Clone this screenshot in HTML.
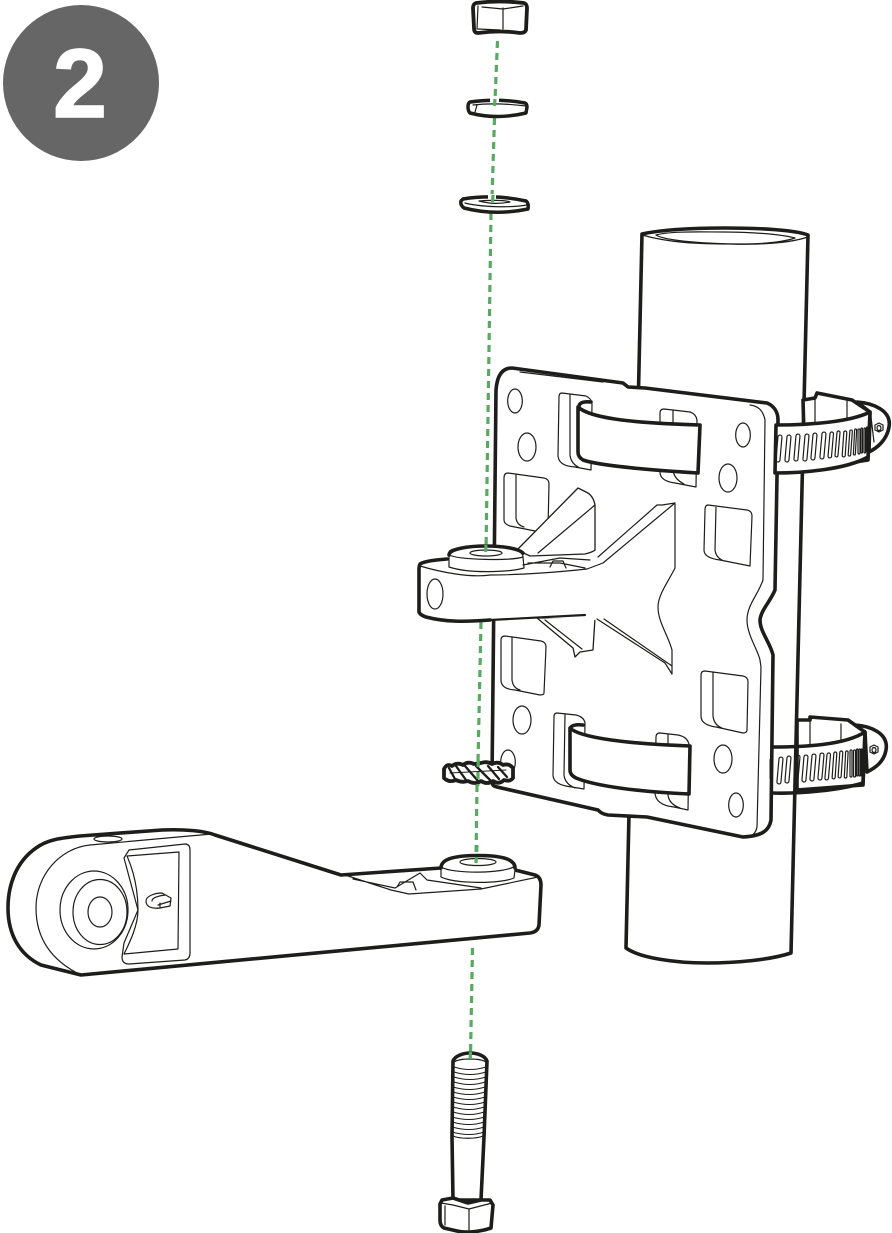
<!DOCTYPE html>
<html lang="en"><head><meta charset="utf-8"><title>Step 2</title>
<style>html,body{margin:0;padding:0;background:#fff}svg{display:block}
.k{stroke:#1d1d1b;fill:none;stroke-linejoin:round;stroke-linecap:round}
.w{stroke:#1d1d1b;fill:#fff;stroke-linejoin:round;stroke-linecap:round}
.t{stroke-width:3.6}.m{stroke-width:1.2}.g{stroke:#58a961;stroke-width:3.2;stroke-dasharray:7 5;fill:none}</style></head>
<body>
<svg xmlns="http://www.w3.org/2000/svg" width="892" height="1233" viewBox="0 0 892 1233">
<rect width="892" height="1233" fill="#fff"/>
<circle cx="81" cy="83" r="78" fill="#666"/>
<text x="80" y="117" text-anchor="middle" font-family="'Liberation Sans',sans-serif" font-weight="700" font-size="97" fill="#fff" stroke="#fff" stroke-width="1.500">2</text>

<!-- pipe -->
<path class="w t" d="M642 234C665 229 700 228 725 228C760 228 795 230 808 235L791 953C770 960 735 963 707 963C675 963 640 958 626 948Z"/>
<path class="k m" d="M642 235C670 243 700 244 730 244C760 245 790 243 808 237M656 235C670 231 700 232 723 232C750 232 780 234 795 238C780 243 760 244 740 244C710 244 665 241 656 235Z"/>

<!-- back clamps -->
<path class="w t" d="M803 400L815 398L817 393L852 400L870 412L868 460L805 470Z"/>
<path class="k m" d="M815 398V425M847 401V422"/>
<path class="w t" d="M857 402C872 403 892 410 889 427C887 440 877 448 869 452L870 412Z"/>
<path class="k m" d="M871 417L874 442"/>
<path class="k m" d="M879 423l4 2v5l-4 2l-4-2v-5zM879 425.500a2 2.500 0 1 0 .01 0"/>
<path class="w t" d="M797 720L810 720L810 717L848 720L865 732L863 785L797 790Z"/>
<path class="k m" d="M810 720V745M841 724V742"/>
<path class="w t" d="M855 725C870 726 889 733 886 750C884 762 875 768 867 772L865 732Z"/>
<path class="k m" d="M874 745l4 2v5l-4 2l-4-2v-5zM874 747.500a2 2.500 0 1 0 .01 0"/>

<!-- plate -->
<path class="w t" d="M496 390C497 376 502 368 512 368L623 383L628 387L645 388L767 403C774 406 778 412 778 420L775 590C770 602 761 610 760 620C760 632 770 642 773 655L771 820C769 832 760 836 743 837L647 817L608 815C602 814 600 812 598 810L497 787C493 786 492 785 492 780Z"/>
<path class="k m" d="M520 372L603 382M750 405C758 406 763 410 765 420L763 580C758 595 747 605 747 620C747 635 758 650 760 660L761 667L757 827C756 832 754 835 750 836"/>
<ellipse class="k m" cx="515" cy="401" rx="7.300" ry="12"/><ellipse class="k m" cx="527" cy="447" rx="9" ry="14"/>
<ellipse class="k m" cx="743" cy="435" rx="7.300" ry="12"/><ellipse class="k m" cx="728" cy="478" rx="9" ry="14"/>
<ellipse class="k m" cx="522" cy="720" rx="9" ry="14"/><ellipse class="k m" cx="508" cy="762" rx="7.300" ry="12"/>
<ellipse class="k m" cx="723" cy="759" rx="9" ry="14"/><ellipse class="k m" cx="736" cy="805" rx="7.300" ry="12"/>
<!-- windows -->
<path class="k m" d="M508 473L544 478Q549 479 549 484L548 528M508 473Q504 473 504 478L504 520Q504 524 510 526L535 531M516 474L516 518Q517 525 524 527"/>
<path class="k m" d="M708 505L747 510Q752 511 752 516L750 566L720 560Q704 558 704 550L705 510Q705 505 708 505ZM716 506L715 550Q716 558 724 561"/>
<path class="k m" d="M505 636L541 641Q546 642 546 647L544 693Q544 695 540 695L515 690Q501 689 501 680L501 640Q501 636 505 636ZM512 637L512 680Q513 688 520 690"/>
<path class="k m" d="M705 671L743 676Q748 677 748 682L747 730Q747 733 743 733L716 727Q701 725 701 716L701 675Q701 671 705 671ZM713 672L713 716Q714 725 722 728"/>
<!-- slots -->
<path class="k m" d="M562 393L586 396Q592 399 592 404L591 470L575 467Q558 466 558 455L559 397Q559 393 562 393ZM570 394L570 455Q571 464 580 468"/>
<path class="k m" d="M664 409L690 412Q696 414 697 420L696 487L675 483Q660 481 660 472L660 413Q660 409 664 409ZM673 410L673 470Q674 479 684 484"/>
<path class="k m" d="M557 713L576 715Q584 717 585 723L584 789L572 787Q553 785 553 775L554 717Q554 713 557 713ZM565 714L564 775Q565 784 575 788"/>
<path class="k m" d="M660 733L678 735Q688 737 689 745L688 810L674 807Q655 805 655 792L656 737Q656 733 660 733ZM668 734L668 795Q669 804 680 808"/>
<!-- straps -->
<path class="w t" d="M578 407C590 418 630 423 700 425L698 473C650 470 600 466 583 460Q578 457 578 452Z"/>
<path class="k" stroke-width="3.600" d="M579 406Q580 401 591 402"/>
<path class="w t" d="M570 728C580 738 630 744 690 746L689 794C640 792 595 786 576 778Q570 775 570 770Z"/>
<path class="k" stroke-width="3.600" d="M571 727Q574 724 583 725"/>

<!-- worm clamps front bands -->
<path class="w t" d="M776 425C810 425 850 422 870 412L868 457C845 470 800 473 775 473Z"/>
<g class="k m" stroke-width="1">
<rect x="777" y="435" width="4" height="27" rx="2" transform="rotate(5 779 448)"/><rect x="786" y="435" width="4" height="27" rx="2" transform="rotate(5 788 448)"/><rect x="795" y="434" width="4" height="27" rx="2" transform="rotate(5 797 447)"/><rect x="804" y="434" width="4" height="27" rx="2" transform="rotate(5 806 447)"/><rect x="812" y="433" width="4" height="27" rx="2" transform="rotate(5 814 446)"/><rect x="821" y="432" width="4" height="27" rx="2" transform="rotate(5 823 445)"/><rect x="829" y="432" width="3.500" height="26" rx="1.700" transform="rotate(5 831 445)"/><rect x="836" y="431" width="3" height="26" rx="1.500" transform="rotate(5 838 444)"/><rect x="843" y="431" width="3" height="26" rx="1.500" transform="rotate(4 845 444)"/><rect x="849" y="430" width="2.500" height="26" rx="1.200" transform="rotate(4 850 443)"/><rect x="854" y="429" width="2" height="26" rx="1" transform="rotate(3 855 442)"/><rect x="858" y="429" width="2" height="25" rx="1"/><rect x="861" y="428" width="1.500" height="25" rx="1"/><rect x="864" y="428" width="1.500" height="25" rx="1"/><rect x="866.500" y="427" width="1.200" height="25" rx="1"/>
<rect x="778" y="757" width="4" height="27" rx="2" transform="rotate(5 780 770)"/><rect x="786" y="756" width="4" height="27" rx="2" transform="rotate(5 788 769)"/><rect x="795" y="755" width="4" height="27" rx="2" transform="rotate(5 797 768)"/><rect x="803" y="755" width="4" height="27" rx="2" transform="rotate(5 805 768)"/><rect x="811" y="754" width="4" height="27" rx="2" transform="rotate(5 813 767)"/><rect x="819" y="753" width="4" height="27" rx="2" transform="rotate(5 821 766)"/><rect x="826" y="753" width="3.500" height="27" rx="1.700" transform="rotate(5 828 766)"/><rect x="833" y="752" width="3" height="27" rx="1.500" transform="rotate(4 835 765)"/><rect x="839" y="751" width="3" height="27" rx="1.500" transform="rotate(4 841 764)"/><rect x="845" y="751" width="2.500" height="27" rx="1.200" transform="rotate(3 846 764)"/><rect x="850" y="750" width="2" height="27" rx="1"/><rect x="853.500" y="750" width="2" height="27" rx="1"/><rect x="856.500" y="749" width="1.500" height="27" rx="1"/><rect x="859" y="749" width="1.500" height="27" rx="1"/><rect x="861" y="749" width="1.200" height="27" rx="1"/>
</g>
<path class="k" stroke-width="3" d="M771 760V778"/>
<path class="k t" d="M772 747C805 747 845 745 865 732L863 783C840 790 800 794 772 793"/>

<!-- green lines behind arm -->
<path class="g" d="M497.500 41L495 100M494.500 118L492 198M491 213L486 551M481 622L478 762M477 785L476 860M472.500 948L470.500 1055"/>

<!-- upper arm bracket -->
<path class="w" stroke-width="1.300" d="M517 550L578 488L586 492Q593 495 595 505L595 550Q593 552 585 554L530 556Z"/>
<path class="k m" d="M595 505L538 553"/>
<path class="w" stroke-width="1.300" d="M537 618L573 648L575 657L580 652L593 650L595 618Z"/>
<path class="k m" d="M545 620L582 649"/>
<path fill="#fff" stroke="none" d="M420 563L447 559L449 552L523 557L525 566L585 569L603 563L675 503V568L658 607L672 650V674L597 620L540 618L437 622L420 614Z"/>
<path class="k m" d="M657 505L662 505L675 503L603 563L587 569M675 503V568C668 582 658 595 658 607C658 622 668 635 672 650V674L665 663L597 619M604 619L672 666M657 505L598 557"/>
<path class="k t" d="M447 559C435 560 425 561 420 564Q419 566 419 570V612Q420 615 426 617C445 622 465 622 490 620"/>
<path class="k" stroke-width="2.200" d="M490 620L585 615"/>
<path class="k m" d="M420 566C440 572 470 578 490 575C520 575 560 572 587 569"/>
<ellipse class="k m" cx="435" cy="594" rx="8" ry="15"/>
<path class="w m" d="M449 552C449 548 470 546 486 546C505 546 523 549 523 557L524 568C510 572 470 574 449 567Z"/>
<path class="k t" d="M449 555C449 549 468 546 486 546C505 546 519 549 523 553"/>
<ellipse class="k m" cx="486" cy="553" rx="16" ry="3"/>
<path class="k m" d="M449 555C460 560 510 561 523 557M523 565L560 558L590 560M528 563L560 563L585 568M550 567L553 561H563L566 568"/>
<path class="g" d="M486 545L485.500 552"/>

<!-- lock washer -->
<path d="M444 769Q447 763 452 766Q457 762 463 765Q468 761 474 764L481 763Q487 761 492 764Q498 761 503 765Q509 763 513 768L513 778Q510 782 504 780Q499 785 493 781Q487 785 481 781Q475 785 468 781Q462 783 456 780Q449 783 444 778Z" fill="#fff" stroke="#1d1d1b" stroke-width="3.800" stroke-linejoin="round"/>
<path class="k" stroke-width="2.300" d="M449 768L455 779M456 766L466 780M465 766L478 781M476 766L490 780M488 766L499 779M498 767L507 777"/>
<path class="k" stroke-width="1" d="M450 773L506 770"/>
<path class="g" d="M478.200 760L477.800 786" stroke-dasharray="5 4"/>

<!-- lower arm -->
<path class="w t" d="M8 908C8 885 16 862 36 848C48 839 62 838 80 836L162 830C185 829 205 831 215 835L341 875L441 868L515 870L535 875Q541 877 541 885L539 925Q538 932 530 933L81 975L41 965C20 955 8 935 8 908Z"/>
<path class="k m" d="M81 975C50 960 36 937 36 908C36 875 60 848 90 845L178 837L212 834"/>
<ellipse class="k m" cx="108" cy="839" rx="14" ry="3"/>
<ellipse class="k m" cx="94" cy="910" rx="34" ry="39"/>
<ellipse class="k m" cx="100" cy="912" rx="27" ry="32.500"/>
<ellipse class="k m" cx="100" cy="912" rx="12" ry="15"/>
<path class="w m" d="M124 858L129 850L185 844Q190 844 190 850L190 953Q190 959 185 960L129 964Q122 964 122 957L124 943L138 910L124 858Z"/>
<path class="k m" d="M127 856L179 852L178 949L124 954M127 856C134 872 138 890 138 910C138 925 130 942 124 954"/>
<path class="k m" d="M146 901C146 896 155 893 162 893L171 898L170 906L160 908C152 909 146 907 146 901ZM152 901C152 898 158 896 165 895M158 905L171 901M160 903V908"/>
<path class="k m" d="M345 875L391 890L409 894L481 889L538 877M353 879L395 888L420 873L427 880L481 888M397 887L400 882H413L416 890"/>
<path class="w m" d="M441 868C441 858 458 856 478 856C498 856 515 858 515 870L514 878C500 884 455 884 441 877Z"/>
<path class="k t" d="M441 868C441 858 458 855.500 478 855.500C498 855.500 515 858 515 868"/>
<ellipse class="k m" cx="478" cy="862" rx="18" ry="3.500"/>
<path class="k m" d="M441 867C452 874 505 874 515 866"/>
<path class="g" d="M477 845L476 863"/>

<!-- nut -->
<path class="w" stroke-width="3.800" stroke-linejoin="round" d="M476 3Q500 0 524 3Q527 4 527 8L526 30Q525 33 520 33Q500 30 478 33Q474 33 474 28L473 8Q473 4 476 3Z"/>
<path class="k m" d="M478 6L477 29M503 8V29M482 7L503 9L523 6M478 29L500 30"/>
<!-- washers -->
<path class="w" stroke-width="3.500" d="M470 102Q497 98 525 103Q527 104 527 107L526 113Q497 120 470 113Q468 111 468 107Q468 103 470 102Z"/>
<path class="k m" d="M473 105C490 103 510 104 526 106M477 105L475 112"/>
<path d="M490 98H499V103H490Z" fill="#fff"/>
<path class="g" d="M495 99L494.500 106" stroke-dasharray="6 3"/>
<path class="w" stroke-width="3.500" d="M463 199Q495 194 526 201Q529 203 528 209Q495 216 464 208Q460 205 461 201Z"/>
<path class="k m" d="M465 203C480 207 510 208 527 205M479 201C490 200 505 200 510 202C500 204 490 204 479 201Z"/>
<path d="M488 194H496V199H488Z" fill="#fff"/>
<path class="g" d="M493 195L492.500 202" stroke-dasharray="6 3"/>

<!-- bolt -->
<path class="w t" d="M453 1061C455 1056 463 1053 470 1053C478 1053 485 1056 487 1061L484 1137L481 1200L453 1200L452 1137Z"/>
<path class="k m" d="M454 1062C460 1058 480 1058 486 1062M453 1136C460 1139 476 1139 483 1136"/>
<g class="k" stroke-width="1">
<path d="M454 1067Q470 1072 486 1067M454 1072Q470 1077 486 1072M454 1077Q470 1082 486 1077M454 1082Q470 1087 485 1082M453 1087Q470 1092 485 1087M453 1092Q470 1097 485 1092M453 1097Q470 1102 485 1097M453 1102Q470 1107 485 1102M453 1107Q470 1112 484 1107M453 1112Q470 1117 484 1112M452 1117Q470 1122 484 1117M452 1122Q470 1127 484 1122M452 1127Q470 1132 484 1127M452 1132Q470 1137 484 1132"/>
</g>
<path class="g" d="M470.500 1052L470.200 1059" stroke-dasharray="6 3"/>
<path class="w t" d="M442 1200L453 1198L468 1203L481 1200L490 1200L493 1205L491 1228C480 1232 465 1233 457 1231L444 1228Q440 1226 440 1220L440 1204Z"/>
<path class="k m" d="M441 1203L453 1205L469 1209L492 1203M445 1206V1225M469 1209V1231"/>
</svg>
</body></html>
